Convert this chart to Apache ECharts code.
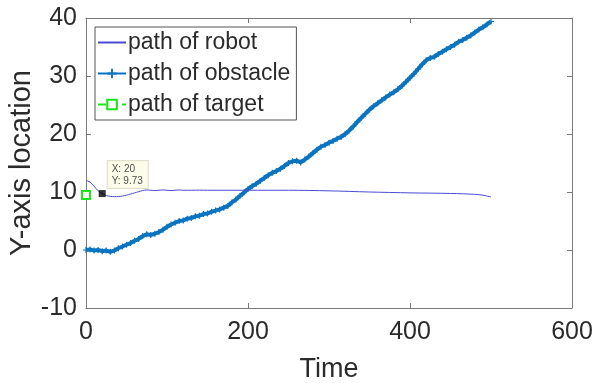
<!DOCTYPE html>
<html>
<head>
<meta charset="utf-8">
<script src="https://cdn.jsdelivr.net/npm/echarts@6/dist/echarts.min.js"></script>
<style>
  html, body { margin: 0; padding: 0; background: #fff; }
  #chart { width: 595px; height: 383px; }
</style>
</head>
<body>
<div id="chart"></div>
<script>
// Time stamps (step 5) for the obstacle path
var obstacleTime = [
  0, 5, 10, 15, 20, 25, 30, 35, 40, 45, 50, 55, 60, 65, 70, 75, 80, 85, 90, 95,
  100, 105, 110, 115, 120, 125, 130, 135, 140, 145, 150, 155, 160, 165, 170, 175, 180, 185, 190, 195,
  200, 205, 210, 215, 220, 225, 230, 235, 240, 245, 250, 255, 260, 265, 270, 275, 280, 285, 290, 295,
  300, 305, 310, 315, 320, 325, 330, 335, 340, 345, 350, 355, 360, 365, 370, 375, 380, 385, 390, 395,
  400, 405, 410, 415, 420, 425, 430, 435, 440, 445, 450, 455, 460, 465, 470, 475, 480, 485, 490, 495, 500
];
// Y location of the obstacle
var obstacleY = [
  0.0, 0.1, -0.1, 0.0, -0.2, -0.1, -0.3, -0.1, 0.3, 0.6, 0.9, 1.2, 1.6, 1.9, 2.4, 2.7, 2.6, 2.8, 3.1, 3.5,
  4.0, 4.4, 4.7, 5.0, 5.1, 5.4, 5.5, 5.8, 5.9, 6.2, 6.3, 6.6, 6.8, 7.0, 7.3, 7.6, 8.2, 8.7, 9.3, 9.9,
  10.5, 11.0, 11.4, 11.9, 12.4, 12.9, 13.3, 13.6, 14.0, 14.5, 15.0, 15.3, 15.4, 15.1, 15.6, 16.1, 16.7, 17.3, 17.8, 18.1,
  18.5, 18.8, 19.2, 19.5, 20.0, 20.6, 21.3, 22.1, 22.8, 23.5, 24.2, 24.8, 25.3, 25.8, 26.3, 26.8, 27.2, 27.7, 28.3, 29.0,
  29.7, 30.4, 31.2, 32.0, 32.7, 33.1, 33.3, 33.8, 34.2, 34.6, 35.0, 35.4, 35.9, 36.2, 36.6, 37.0, 37.5, 38.0, 38.4, 38.9, 39.4
];

// Robot path
var robotTime = [
  0, 5, 10, 15, 20, 25, 30, 35, 40, 45, 50, 55, 60, 65, 70, 75, 80, 85, 90, 95,
  100, 105, 110, 115, 120, 130, 140, 150, 200, 250, 300, 350, 400, 450, 480, 490, 500
];
var robotY = [
  12.0, 11.7, 11.0, 10.2, 9.73, 9.4, 9.25, 9.2, 9.2, 9.3, 9.45, 9.65, 9.85, 10.05, 10.25, 10.35, 10.3, 10.25, 10.3, 10.35,
  10.3, 10.25, 10.3, 10.35, 10.3, 10.3, 10.32, 10.3, 10.3, 10.3, 10.2, 10.0, 9.85, 9.75, 9.6, 9.45, 9.15
];

// Target position
var targetTime = [0];
var targetY = [9.5];

// Data tip on the robot path
var tipX = 20;
var tipY = 9.73;

// Axis ranges
var xMin = 0, xMax = 600, xStep = 200;
var yMin = -10, yMax = 40, yStep = 10;

function pairs(xs, ys) {
  return xs.map(function (x, i) { return [x, ys[i]]; });
}

var axisGray = '#7a7a7a';
var textDark = '#2b2b2b';
var font = 'Liberation Sans, Arial, Helvetica, sans-serif';

var plusSymbol = 'path://M4,0 H6 V4 H10 V6 H6 V10 H4 V6 H0 V4 H4 Z';

var chart = echarts.init(document.getElementById('chart'), null, { renderer: 'canvas' });

chart.setOption({
  animation: false,
  backgroundColor: '#ffffff',
  textStyle: { fontFamily: font },
  grid: { left: 86, right: 23, top: 18, bottom: 75, containLabel: false, outerBoundsMode: 'none' },
  xAxis: [
    {
      type: 'value', min: xMin, max: xMax, interval: xStep,
      position: 'bottom',
      name: 'Time', nameLocation: 'middle', nameGap: 48,
      nameTextStyle: { fontSize: 27, color: textDark, fontFamily: font },
      axisLine: { show: true, onZero: false, lineStyle: { color: axisGray, width: 1 } },
      axisTick: { show: true, inside: true, length: 5, lineStyle: { color: axisGray } },
      axisLabel: { fontSize: 25, color: textDark, margin: 12, fontFamily: font },
      splitLine: { show: false }
    },
    {
      type: 'value', min: xMin, max: xMax, interval: xStep,
      position: 'top',
      axisLine: { show: true, onZero: false, lineStyle: { color: axisGray, width: 1 } },
      axisTick: { show: true, inside: true, length: 5, lineStyle: { color: axisGray } },
      axisLabel: { show: false },
      splitLine: { show: false }
    }
  ],
  yAxis: [
    {
      type: 'value', min: yMin, max: yMax, interval: yStep,
      position: 'left',
      name: 'Y-axis location', nameLocation: 'middle', nameGap: 50,
      nameMoveOverlap: false,
      nameTextStyle: { fontSize: 29, color: textDark, fontFamily: font },
      axisLine: { show: true, onZero: false, lineStyle: { color: axisGray, width: 1 } },
      axisTick: { show: true, inside: true, length: 5, lineStyle: { color: axisGray } },
      axisLabel: { fontSize: 25, color: textDark, margin: 9, fontFamily: font },
      splitLine: { show: false }
    },
    {
      type: 'value', min: yMin, max: yMax, interval: yStep,
      position: 'right',
      axisLine: { show: true, onZero: false, lineStyle: { color: axisGray, width: 1 } },
      axisTick: { show: true, inside: true, length: 5, lineStyle: { color: axisGray } },
      axisLabel: { show: false },
      splitLine: { show: false }
    }
  ],
  legend: {
    orient: 'vertical',
    left: 95, top: 27,
    padding: [4, 6, 4, 2],
    itemGap: 8,
    itemWidth: 28, itemHeight: 12,
    borderColor: '#555', borderWidth: 1,
    backgroundColor: '#ffffff',
    textStyle: { fontSize: 23, color: textDark, fontFamily: font, padding: [0, 0, 0, -3] },
    data: [
      { name: 'path of robot', itemStyle: { color: 'rgba(0,0,0,0)', borderWidth: 0 } },
      'path of obstacle',
      'path of target'
    ]
  },
  series: [
    {
      name: 'path of obstacle',
      type: 'line',
      data: pairs(obstacleTime, obstacleY),
      xAxisIndex: 0, yAxisIndex: 0,
      symbol: plusSymbol, symbolSize: 6, showSymbol: true,
      lineStyle: { color: '#0b74c0', width: 4 },
      itemStyle: { color: '#0b74c0' },
      z: 2
    },
    {
      name: 'path of robot',
      type: 'line',
      data: pairs(robotTime, robotY),
      xAxisIndex: 0, yAxisIndex: 0,
      smooth: 0.3,
      symbol: 'none',
      lineStyle: { color: '#4b4bd2', width: 1 },
      itemStyle: { color: '#4b4bd2' },
      z: 3
    },
    {
      name: 'path of target',
      type: 'line',
      data: pairs(targetTime, targetY),
      xAxisIndex: 0, yAxisIndex: 0,
      clip: false,
      symbol: 'emptyRect', symbolSize: 8,
      lineStyle: { color: '#19e619', width: 2, type: 'dashed' },
      itemStyle: { color: '#19e619', borderColor: '#19e619', borderWidth: 2 },
      z: 4
    },
    {
      name: 'tip',
      type: 'scatter',
      data: [[tipX, tipY]],
      xAxisIndex: 0, yAxisIndex: 0,
      symbol: 'rect', symbolSize: 7,
      itemStyle: { color: '#000000' },
      label: {
        show: true,
        position: [9, -29],
        formatter: function (p) { return 'X: ' + p.value[0] + '\n' + 'Y: ' + p.value[1]; },
        fontSize: 10, lineHeight: 12, color: '#222', fontFamily: font,
        backgroundColor: '#fbfbe6', borderColor: '#d8d8c0', borderWidth: 1,
        padding: [2, 5, 1, 4]
      },
      z: 5
    }
  ]
});
</script>
</body>
</html>
